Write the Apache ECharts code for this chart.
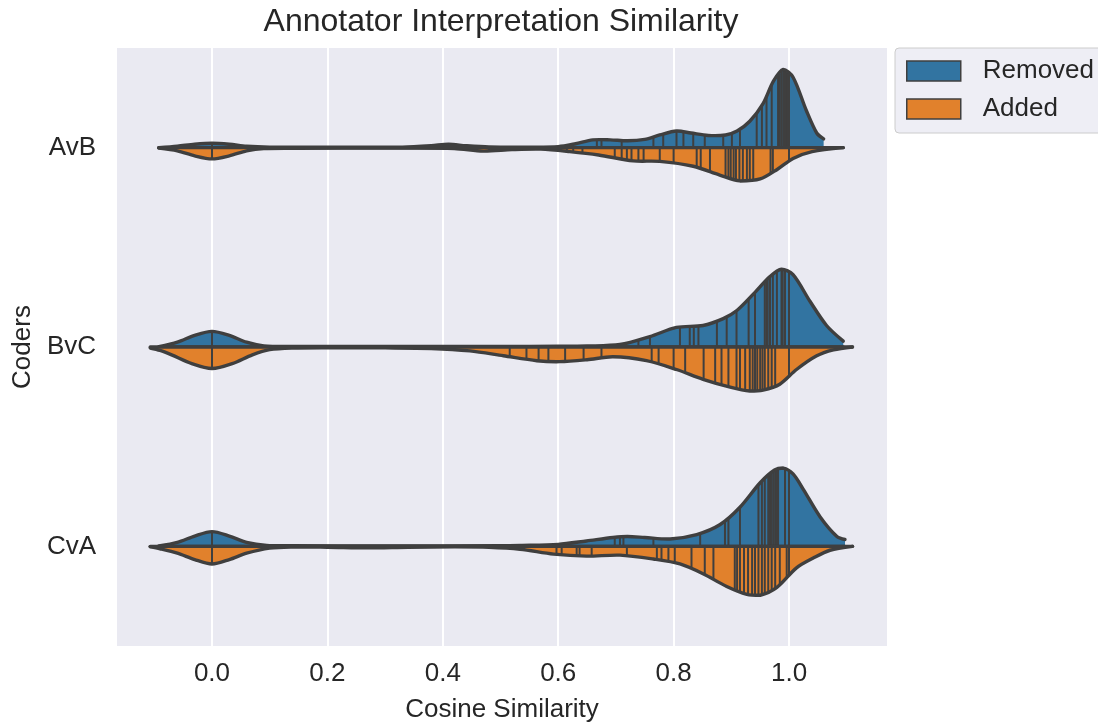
<!DOCTYPE html>
<html><head><meta charset="utf-8">
<script src="https://cdn.jsdelivr.net/npm/echarts@6/dist/echarts.min.js"></script>
<style>html,body{margin:0;padding:0;background:#fff}#c{width:1098px;height:724px}</style>
</head><body><div id="c"></div>
<script>
// ---------- data ----------
const categories = ['AvB', 'BvC', 'CvA'];
const hues = ['Removed', 'Added'];
const xTicks = [0, 0.2, 0.4, 0.6, 0.8, 1.0];

// KDE outlines: [cosine similarity, density (arbitrary units, widest half = 81.5)]
const removedAvB = [[-0.092,0],[-0.06,1.5],[-0.03,3.5],[0,4.5],[0.03,3.5],[0.06,1.5],[0.1,0.6],[0.2,0.5],[0.33,0.6],[0.38,2],[0.41,3.5],[0.44,2],[0.48,0.7],[0.55,0.5],[0.6,1],[0.63,4],[0.66,8],[0.69,8],[0.72,7],[0.75,8.5],[0.776,13],[0.805,17],[0.83,15],[0.86,12.5],[0.89,13],[0.91,17],[0.932,27],[0.955,45],[0.973,68],[0.99,80],[1.007,72],[1.03,38],[1.048,15],[1.06,9]];
const addedAvB = [[-0.092,0.5],[-0.06,3.2],[-0.03,8.4],[0,11.5],[0.03,8.4],[0.06,3.2],[0.09,0.9],[0.15,0.6],[0.3,0.5],[0.42,0.8],[0.47,3.5],[0.52,2],[0.57,1.5],[0.62,4],[0.67,7.5],[0.73,13.5],[0.776,14],[0.834,19],[0.88,28],[0.915,34],[0.95,32],[0.98,22],[1.007,11],[1.04,4],[1.094,0]];
const removedBvC = [[-0.092,0.3],[-0.06,4.9],[-0.03,11.9],[0,16],[0.03,11.9],[0.06,4.9],[0.09,1.2],[0.14,0.6],[0.3,0.6],[0.5,0.6],[0.6,0.7],[0.65,1],[0.707,2.5],[0.759,10.7],[0.805,20],[0.851,22],[0.886,29],[0.909,37],[0.938,54],[0.967,72],[0.987,79.5],[1.007,74],[1.036,47],[1.065,22],[1.094,6]];
const addedBvC = [[-0.107,1],[-0.09,3.5],[-0.07,8],[-0.035,17],[0,22],[0.035,17],[0.07,8],[0.1,2.7],[0.14,1],[0.2,0.7],[0.3,0.9],[0.38,1.5],[0.447,4],[0.505,9],[0.563,14],[0.603,15],[0.65,13],[0.695,10],[0.753,14],[0.805,23],[0.851,33],[0.898,41],[0.932,45],[0.955,44],[0.984,38],[1.013,23],[1.048,9],[1.077,3],[1.11,0]];
const removedCvA = [[-0.092,0.3],[-0.06,4],[-0.03,10.5],[0,15],[0.03,10.5],[0.06,4],[0.095,0.9],[0.14,0.6],[0.3,0.5],[0.5,0.6],[0.534,0.9],[0.6,2],[0.649,5.5],[0.695,9],[0.72,10],[0.75,9],[0.794,7.5],[0.84,12],[0.88,22],[0.915,40],[0.95,65],[0.975,78],[0.99,80],[1.007,74],[1.025,58],[1.054,30],[1.083,10],[1.097,7]];
const addedCvA = [[-0.107,0.5],[-0.09,2.5],[-0.06,7],[-0.03,13.5],[0,18],[0.03,13.5],[0.06,7],[0.1,1.8],[0.14,0.7],[0.2,0.9],[0.27,1.5],[0.34,0.9],[0.42,0.6],[0.48,1],[0.534,3],[0.592,8],[0.649,10],[0.707,9],[0.765,13],[0.811,18],[0.851,28],[0.892,41],[0.927,49],[0.95,50],[0.979,42],[1.013,22],[1.042,12],[1.071,4],[1.11,0]];

// individual observations (inner "stick" lines)
const removedObsAvB = [0.0, 0.41, 0.667, 0.675, 0.71, 0.765, 0.782, 0.805, 0.817, 0.834, 0.854, 0.886, 0.901, 0.915, 0.944, 0.953, 0.961, 0.970, 0.981, 0.984, 0.987, 0.990, 0.993, 0.996, 0.998, 1.0];
const addedObsAvB = [0.0, 0.48, 0.615, 0.626, 0.642, 0.698, 0.710, 0.719, 0.727, 0.739, 0.748, 0.776, 0.800, 0.840, 0.847, 0.863, 0.890, 0.895, 0.899, 0.904, 0.908, 0.914, 0.920, 0.927, 0.932, 0.938, 0.968, 0.972, 1.0];
const removedObsBvC = [0.0, 0.739, 0.759, 0.811, 0.828, 0.835, 0.843, 0.875, 0.892, 0.909, 0.930, 0.941, 0.958, 0.961, 0.963, 0.967, 0.972, 0.979, 0.987, 0.989, 0.993, 1.0];
const addedObsBvC = [0.0, 0.516, 0.545, 0.566, 0.583, 0.612, 0.644, 0.675, 0.762, 0.774, 0.800, 0.820, 0.852, 0.872, 0.883, 0.895, 0.909, 0.915, 0.924, 0.932, 0.937, 0.941, 0.945, 0.950, 0.954, 0.958, 0.964, 0.970, 0.976, 1.0];
const removedObsCvA = [0.0, 0.698, 0.707, 0.713, 0.765, 0.846, 0.889, 0.895, 0.915, 0.947, 0.953, 0.958, 0.964, 0.967, 0.970, 0.973, 0.976, 0.979, 0.981, 0.993, 1.0];
const addedObsCvA = [0.0, 0.27, 0.597, 0.606, 0.632, 0.637, 0.658, 0.719, 0.771, 0.779, 0.791, 0.802, 0.831, 0.854, 0.869, 0.906, 0.910, 0.915, 0.922, 0.929, 0.936, 0.941, 0.947, 0.953, 0.958, 0.964, 0.970, 0.976, 0.984, 0.996, 1.0];

// ---------- drawing ----------
const removedDens = [removedAvB, removedBvC, removedCvA];
const addedDens = [addedAvB, addedBvC, addedCvA];
const removedObs = [removedObsAvB, removedObsBvC, removedObsCvA];
const addedObs = [addedObsAvB, addedObsBvC, addedObsCvA];

const BLUE = '#3274a1', ORANGE = '#e1812c', EDGE = '#3f3f3f', TXT = '#262626';
const FONT = "'Liberation Sans', Arial, sans-serif";
const DENS_MAX = 81.5, HALF = 0.4;

function interp(d, v) {
  if (v <= d[0][0]) return d[0][1];
  for (let j = 1; j < d.length; j++) {
    if (v <= d[j][0]) {
      const t = (v - d[j-1][0]) / (d[j][0] - d[j-1][0]);
      return d[j-1][1] + t * (d[j][1] - d[j-1][1]);
    }
  }
  return d[d.length-1][1];
}

function makeRender(densSets, obsSets, sign) {
  return function (params, api) {
    const i = params.dataIndex;
    const dens = densSets[i], obs = obsSets[i];
    const cat = api.value(1);
    const band = api.size([0, 1])[1];
    const k = sign * band * HALF / DENS_MAX;
    const c0 = api.coord([dens[0][0], cat]);
    const c1 = api.coord([dens[dens.length - 1][0], cat]);
    const yc = c0[1];
    const curve = dens.map(d => { const p = api.coord([d[0], cat]); return [p[0], yc + d[1] * k]; });
    const bounds = [[c0[0], yc], [c1[0], yc]];
    const children = [];
    children.push({ type: 'polygon', shape: { points: [c0].concat(curve, [c1]), smooth: 0.3, smoothConstraint: bounds },
      style: { fill: api.visual('color'), stroke: null } });
    obs.forEach(v => {
      const h = interp(dens, v);
      const p = api.coord([v, cat]);
      children.push({ type: 'line', shape: { x1: p[0], y1: yc, x2: p[0], y2: yc + h * k },
        style: { stroke: EDGE, lineWidth: 2 } });
    });
    children.push({ type: 'polyline', shape: { points: curve, smooth: 0.3, smoothConstraint: bounds },
      style: { fill: null, stroke: EDGE, lineWidth: 3.4, lineJoin: 'round', lineCap: 'round' } });
    children.push({ type: 'line', shape: { x1: c0[0], y1: yc, x2: c1[0], y2: yc },
      style: { stroke: EDGE, lineWidth: 3.4, lineCap: 'round' } });
    return { type: 'group', children };
  };
}

const chart = echarts.init(document.getElementById('c'), null, { renderer: 'canvas' });
chart.setOption({
  animation: false,
  backgroundColor: '#ffffff',
  textStyle: { fontFamily: FONT },
  title: {
    text: 'Annotator Interpretation Similarity', left: 496, top: 1, textAlign: 'center',
    textStyle: { fontSize: 32, fontWeight: 'normal', color: TXT, fontFamily: FONT }
  },
  legend: {
    data: hues, orient: 'vertical', left: 895, top: 48, icon: 'rect',
    itemWidth: 54, itemHeight: 20, itemGap: 12, padding: [10, 14, 11, 11],
    backgroundColor: '#eeeef5', borderColor: '#cccccc', borderWidth: 1, borderRadius: 4,
    itemStyle: { borderColor: EDGE, borderWidth: 1.5 },
    textStyle: { fontSize: 26, color: TXT, padding: [0, 0, 0, 17], fontFamily: FONT }
  },
  grid: { left: 117, top: 48, width: 770, height: 598, show: true, backgroundColor: '#eaeaf2', borderWidth: 0,
    outerBoundsMode: 'none', containLabel: false },
  xAxis: {
    type: 'value', min: -0.1646, max: 1.1698,
    axisLine: { show: false },
    axisTick: { show: false, customValues: xTicks },
    axisLabel: { customValues: xTicks, formatter: v => v.toFixed(1), fontSize: 26, color: TXT, margin: 15, fontFamily: FONT },
    splitLine: { show: true, lineStyle: { color: '#ffffff', width: 2 } },
    name: 'Cosine Similarity', nameLocation: 'middle', nameGap: 51,
    nameTextStyle: { fontSize: 26, color: TXT, fontFamily: FONT }
  },
  yAxis: {
    type: 'category', data: categories, inverse: true,
    axisLine: { show: false }, axisTick: { show: false }, splitLine: { show: false },
    axisLabel: { fontSize: 26, color: TXT, margin: 21, fontFamily: FONT },
    name: 'Coders', nameLocation: 'middle', nameGap: 71,
    nameTextStyle: { fontSize: 26, color: TXT, fontFamily: FONT }
  },
  series: [
    { name: 'Removed', type: 'custom', coordinateSystem: 'cartesian2d', silent: true,
      renderItem: makeRender(removedDens, removedObs, -1),
      data: categories.map((c, i) => [0, i]), encode: { x: 0, y: 1 },
      itemStyle: { color: BLUE } },
    { name: 'Added', type: 'custom', coordinateSystem: 'cartesian2d', silent: true,
      renderItem: makeRender(addedDens, addedObs, 1),
      data: categories.map((c, i) => [0, i]), encode: { x: 0, y: 1 },
      itemStyle: { color: ORANGE } }
  ]
});
</script>
</body></html>
